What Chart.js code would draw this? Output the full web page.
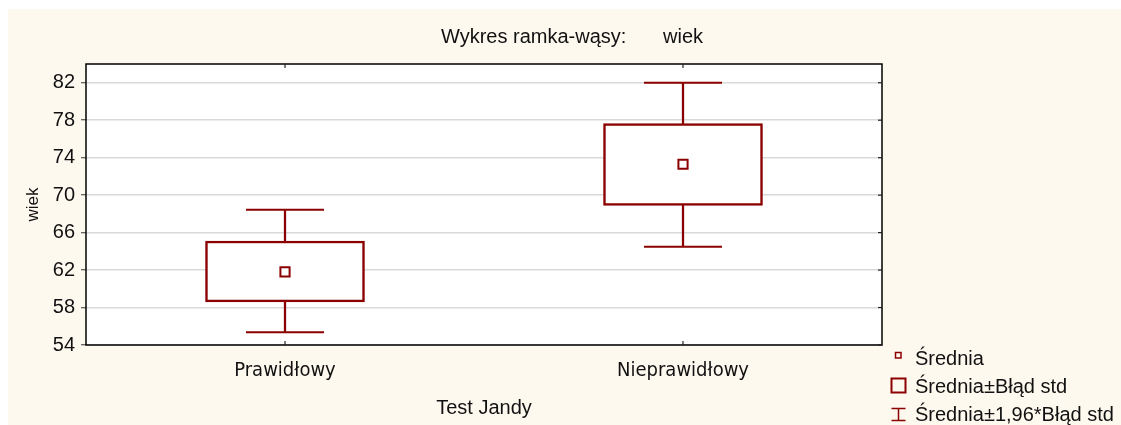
<!DOCTYPE html>
<html>
<head>
<meta charset="utf-8">
<script src="https://cdn.jsdelivr.net/npm/chart.js@4"></script>
<style>
html,body{margin:0;padding:0;background:#fff;}
canvas{display:block;}
</style>
</head>
<body>
<canvas id="c" width="1121" height="425"></canvas>
<script>
const categories = ['Prawidłowy', 'Nieprawidłowy'];
const means = [61.8, 73.3];
const boxLow = [58.6, 68.9];
const boxHigh = [65.1, 77.65];
const whiskerLow = [55.35, 64.5];
const whiskerHigh = [68.45, 82.0];
const yTickLabels = [54, 58, 62, 66, 70, 74, 78, 82];

const RED = '#8b0000';
const CREAM = '#fef9ef';

const decor = {
  id: 'decor',
  beforeDraw(chart) {
    const ctx = chart.ctx, a = chart.chartArea;
    ctx.save();
    ctx.fillStyle = '#ffffff';
    ctx.fillRect(0, 0, chart.width, chart.height);
    ctx.fillStyle = CREAM;
    ctx.fillRect(8, 9, chart.width - 8, chart.height - 9);
    ctx.fillStyle = '#ffffff';
    ctx.fillRect(a.left, a.top, a.right - a.left, a.bottom - a.top);
    ctx.restore();
  },
  afterDraw(chart) {
    const ctx = chart.ctx, a = chart.chartArea;
    const xs = chart.scales.x, ys = chart.scales.y;
    ctx.save();
    // frame
    ctx.strokeStyle = '#000';
    ctx.lineWidth = 1.5;
    ctx.strokeRect(a.left, a.top, a.right - a.left, a.bottom - a.top);
    // inward ticks right
    ctx.lineWidth = 1.2;
    ctx.strokeStyle = '#222';
    ys.ticks.forEach(t => {
      const y = ys.getPixelForValue(t.value);
      ctx.beginPath(); ctx.moveTo(a.right, y); ctx.lineTo(a.right - 4, y); ctx.stroke();
    });
    // top/bottom ticks at categories
    categories.forEach((c, i) => {
      const x = xs.getPixelForValue(i);
      ctx.beginPath(); ctx.moveTo(x, a.top); ctx.lineTo(x, a.top + 4); ctx.stroke();
      ctx.beginPath(); ctx.moveTo(x, a.bottom); ctx.lineTo(x, a.bottom - 4); ctx.stroke();
    });
    // title
    ctx.fillStyle = '#111';
    ctx.font = '20px "Liberation Sans", Arial, sans-serif';
    ctx.textBaseline = 'alphabetic';
    ctx.textAlign = 'left';
    ctx.fillText('Wykres ramka-wąsy:', 441, 43);
    ctx.fillText('wiek', 663, 43);
    // legend
    ctx.fillText('Średnia', 915, 365);
    ctx.fillText('Średnia±Błąd std', 915, 393);
    ctx.fillText('Średnia±1,96*Błąd std', 915, 421);
    ctx.strokeStyle = RED;
    ctx.lineWidth = 1.5;
    ctx.strokeRect(895.5, 352.5, 5.5, 5.5);
    ctx.lineWidth = 2;
    ctx.strokeRect(891.5, 378.5, 14, 14);
    ctx.lineWidth = 1.5;
    ctx.beginPath();
    ctx.moveTo(898.5, 408); ctx.lineTo(898.5, 420.5);
    ctx.moveTo(891.5, 408.5); ctx.lineTo(905.5, 408.5);
    ctx.moveTo(891.5, 420.5); ctx.lineTo(905.5, 420.5);
    ctx.stroke();
    ctx.restore();
  }
};

Chart.defaults.font.family = '"Liberation Sans", Arial, sans-serif';
Chart.defaults.color = '#111';

new Chart(document.getElementById('c'), {
  type: 'bar',
  data: {
    labels: categories,
    datasets: [
      {
        type: 'line', label: 'Średnia', data: means, order: 0,
        showLine: false, pointStyle: 'rect', pointRadius: 6.5,
        pointBorderWidth: 2, pointBorderColor: RED, pointBackgroundColor: '#ffffff'
      },
      {
        type: 'line', label: 'whiskerHigh', data: whiskerHigh, order: 1,
        showLine: false, pointStyle: 'line', pointRadius: 39,
        pointBorderWidth: 2, pointBorderColor: RED
      },
      {
        type: 'line', label: 'whiskerLow', data: whiskerLow, order: 1,
        showLine: false, pointStyle: 'line', pointRadius: 39,
        pointBorderWidth: 2, pointBorderColor: RED
      },
      {
        type: 'bar', label: 'Średnia±Błąd std',
        data: boxLow.map((v, i) => [v, boxHigh[i]]), order: 2,
        grouped: false, barThickness: 159,
        backgroundColor: '#ffffff', borderColor: RED, borderWidth: 2.5, borderSkipped: false
      },
      {
        type: 'bar', label: 'stem',
        data: whiskerLow.map((v, i) => [v, whiskerHigh[i]]), order: 3,
        grouped: false, barThickness: 1.6,
        backgroundColor: RED, borderWidth: 0
      }
    ]
  },
  options: {
    responsive: false,
    animation: false,
    events: [],
    layout: { padding: { top: 64, right: 239, left: 0, bottom: 0 } },
    plugins: { legend: { display: false }, tooltip: { enabled: false }, title: { display: false } },
    scales: {
      x: {
        type: 'category',
        offset: true,
        grid: { display: false, drawTicks: false },
        border: { display: false },
        ticks: { padding: 14, color: '#111', font: { family: '"DejaVu Sans Condensed", "DejaVu Sans", sans-serif', size: 20 } },
        title: { display: true, text: 'Test Jandy', color: '#111', font: { size: 20 }, padding: { top: 0, bottom: 5 } },
        afterFit(s) { s.height = 80; }
      },
      y: {
        min: 54, max: 84,
        grid: { color: '#d9d9d9', lineWidth: 1.5, drawTicks: true, tickLength: 5, tickColor: '#333', tickWidth: 1 },
        border: { display: false },
        ticks: {
          stepSize: 2, padding: 6, color: '#111', font: { size: 20 },
          callback: v => (yTickLabels.includes(v) ? String(v) : '')
        },
        title: { display: true, text: 'wiek', color: '#111', font: { size: 17 }, padding: { top: 23, bottom: 0 } },
        afterFit(s) { s.width = 86; }
      }
    }
  },
  plugins: [decor]
});
</script>
</body>
</html>
